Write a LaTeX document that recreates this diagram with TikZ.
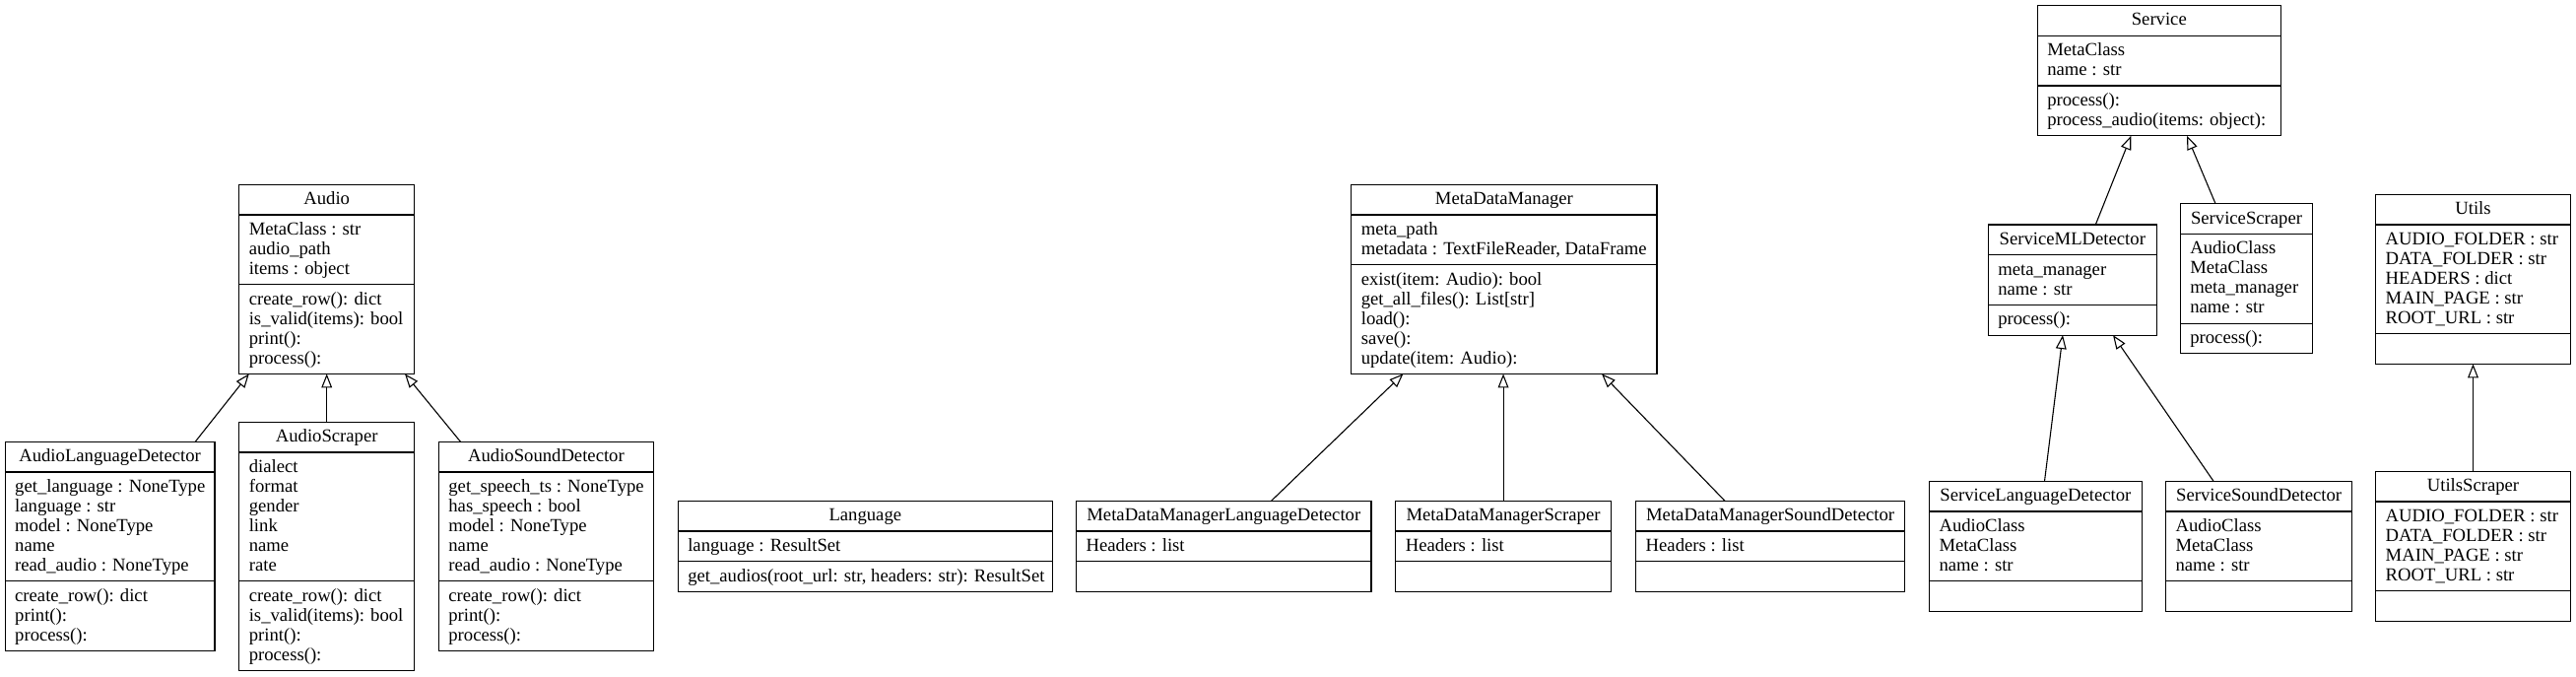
\documentclass[tikz,border=0pt]{standalone}
\usepackage{fontspec}
\setmainfont{Liberation Serif}
\usetikzlibrary{arrows.meta,calc}
\tikzset{
  classbox/.style={draw, line width=1.2pt, inner sep=0pt, outer sep=0pt, fill=white},
  sepline/.style={draw, line width=1.2pt},
  clstext/.style={inner sep=0pt, outer sep=0pt},
  inherit/.style={draw, line width=1.1pt, -{Triangle[open, length=14pt, width=10.7pt, line width=1.1pt]}}
}
% #1 id, #2 x, #3 y, #4 width, #5 title, #6 n attr, #7 attrs, #8 n meth, #9 meths
\newcommand\umlcls[9]{%
  \pgfmathsetmacro\hA{20*#6+10.7}%
  \pgfmathsetmacro\hM{20*#8+10.7}%
  \pgfmathsetmacro\hT{30.7+\hA+\hM}%
  \node[classbox, minimum width=#4pt, minimum height=\hT pt, anchor=north west] (#1) at (#2,#3) {};
  \draw[sepline] ($(#1.north west)+(0,30.7)$) -- ($(#1.north east)+(0,30.7)$);
  \draw[sepline] ($(#1.north west)+(0,30.7+\hA)$) -- ($(#1.north east)+(0,30.7+\hA)$);
  \node[clstext, anchor=base] (#1-t) at ($(#1.north)+(0,20.3)$) {#5};
  \node[clstext, anchor=base west] (#1-a) at ($(#1.north west)+(10,30.7+20.5)$) {\begin{tabular}[t]{@{}l@{}}#7\end{tabular}};
  \node[clstext, anchor=base west] (#1-m) at ($(#1.north west)+(10,30.7+\hA+20.5)$) {\begin{tabular}[t]{@{}l@{}}#9\end{tabular}};
}
\begin{document}
\begin{tikzpicture}[x=1pt,y=-1pt,font=\fontsize{18.67}{20}\selectfont]
\useasboundingbox[fill=white] (0,0) rectangle (2615,687);

\umlcls{Audio}{242.8}{187.3}{177.8}{Audio}{3}{MetaClass : str\\audio\_path\\items : object}{4}{create\_row(): dict\\is\_valid(items): bool\\print():\\process():}
\umlcls{ALD}{5.2}{448.3}{212.8}{AudioLanguageDetector}{5}{get\_language : NoneType\\language : str\\model : NoneType\\name\\read\_audio : NoneType}{3}{create\_row(): dict\\print():\\process():}
\umlcls{AS}{242.8}{428.3}{177.8}{AudioScraper}{6}{dialect\\format\\gender\\link\\name\\rate}{4}{create\_row(): dict\\is\_valid(items): bool\\print():\\process():}
\umlcls{ASD}{445.4}{448.3}{218.1}{AudioSoundDetector}{5}{get\_speech\_ts : NoneType\\has\_speech : bool\\model : NoneType\\name\\read\_audio : NoneType}{3}{create\_row(): dict\\print():\\process():}
\umlcls{Lang}{688.3}{508.3}{380}{Language}{1}{language : ResultSet}{1}{get\_audios(root\_url: str, headers: str): ResultSet}
\umlcls{MDM}{1371.8}{187.3}{310.2}{MetaDataManager}{2}{meta\_path\\metadata : TextFileReader, DataFrame}{5}{exist(item: Audio): bool\\get\_all\_files(): List[str]\\load():\\save():\\update(item: Audio):}
\umlcls{MDMLD}{1092.6}{508.3}{299.4}{MetaDataManagerLanguageDetector}{1}{Headers : list}{1}{}
\umlcls{MDMS}{1416.8}{508.3}{218.5}{MetaDataManagerScraper}{1}{Headers : list}{1}{}
\umlcls{MDMSD}{1660.7}{508.3}{272.8}{MetaDataManagerSoundDetector}{1}{Headers : list}{1}{}
\umlcls{Service}{2068.3}{5.7}{247}{Service}{2}{MetaClass\\name : str}{2}{process():\\process\_audio(items: object):}
\umlcls{SMLD}{2018.3}{228}{171}{ServiceMLDetector}{2}{meta\_manager\\name : str}{1}{process():}
\umlcls{SS}{2213.3}{206.7}{134.4}{ServiceScraper}{4}{AudioClass\\MetaClass\\meta\_manager\\name : str}{1}{process():}
\umlcls{SLD}{1958.5}{488.3}{215.8}{ServiceLanguageDetector}{3}{AudioClass\\MetaClass\\name : str}{1}{}
\umlcls{SSD}{2198.5}{488.3}{189.2}{ServiceSoundDetector}{3}{AudioClass\\MetaClass\\name : str}{1}{}
\umlcls{Utils}{2411.7}{197.3}{197.6}{Utils}{5}{AUDIO\_FOLDER : str\\DATA\_FOLDER : str\\HEADERS : dict\\MAIN\_PAGE : str\\ROOT\_URL : str}{1}{}
\umlcls{US}{2411.7}{478.3}{197.6}{UtilsScraper}{4}{AUDIO\_FOLDER : str\\DATA\_FOLDER : str\\MAIN\_PAGE : str\\ROOT\_URL : str}{1}{}

\draw[inherit] ([xshift=193pt]ALD.north west) -- ([xshift=10pt]Audio.south west);
\draw[inherit] (AS.north) -- (Audio.south);
\draw[inherit] ([xshift=22.1pt]ASD.north west) -- ([xshift=168.2pt]Audio.south west);
\draw[inherit] ([xshift=197.9pt]MDMLD.north west) -- ([xshift=52.6pt]MDM.south west);
\draw[inherit] (MDMS.north) -- (MDMS.north |- MDM.south);
\draw[inherit] ([xshift=90.3pt]MDMSD.north west) -- ([xshift=254.2pt]MDM.south west);
\draw[inherit] ([xshift=109pt]SMLD.north west) -- ([xshift=95pt]Service.south west);
\draw[inherit] ([xshift=35.7pt]SS.north west) -- ([xshift=151.7pt]Service.south west);
\draw[inherit] ([xshift=117pt]SLD.north west) -- ([xshift=75.7pt]SMLD.south west);
\draw[inherit] ([xshift=48.5pt]SSD.north west) -- ([xshift=126.7pt]SMLD.south west);
\draw[inherit] (US.north) -- (Utils.south);
\end{tikzpicture}
\end{document}
